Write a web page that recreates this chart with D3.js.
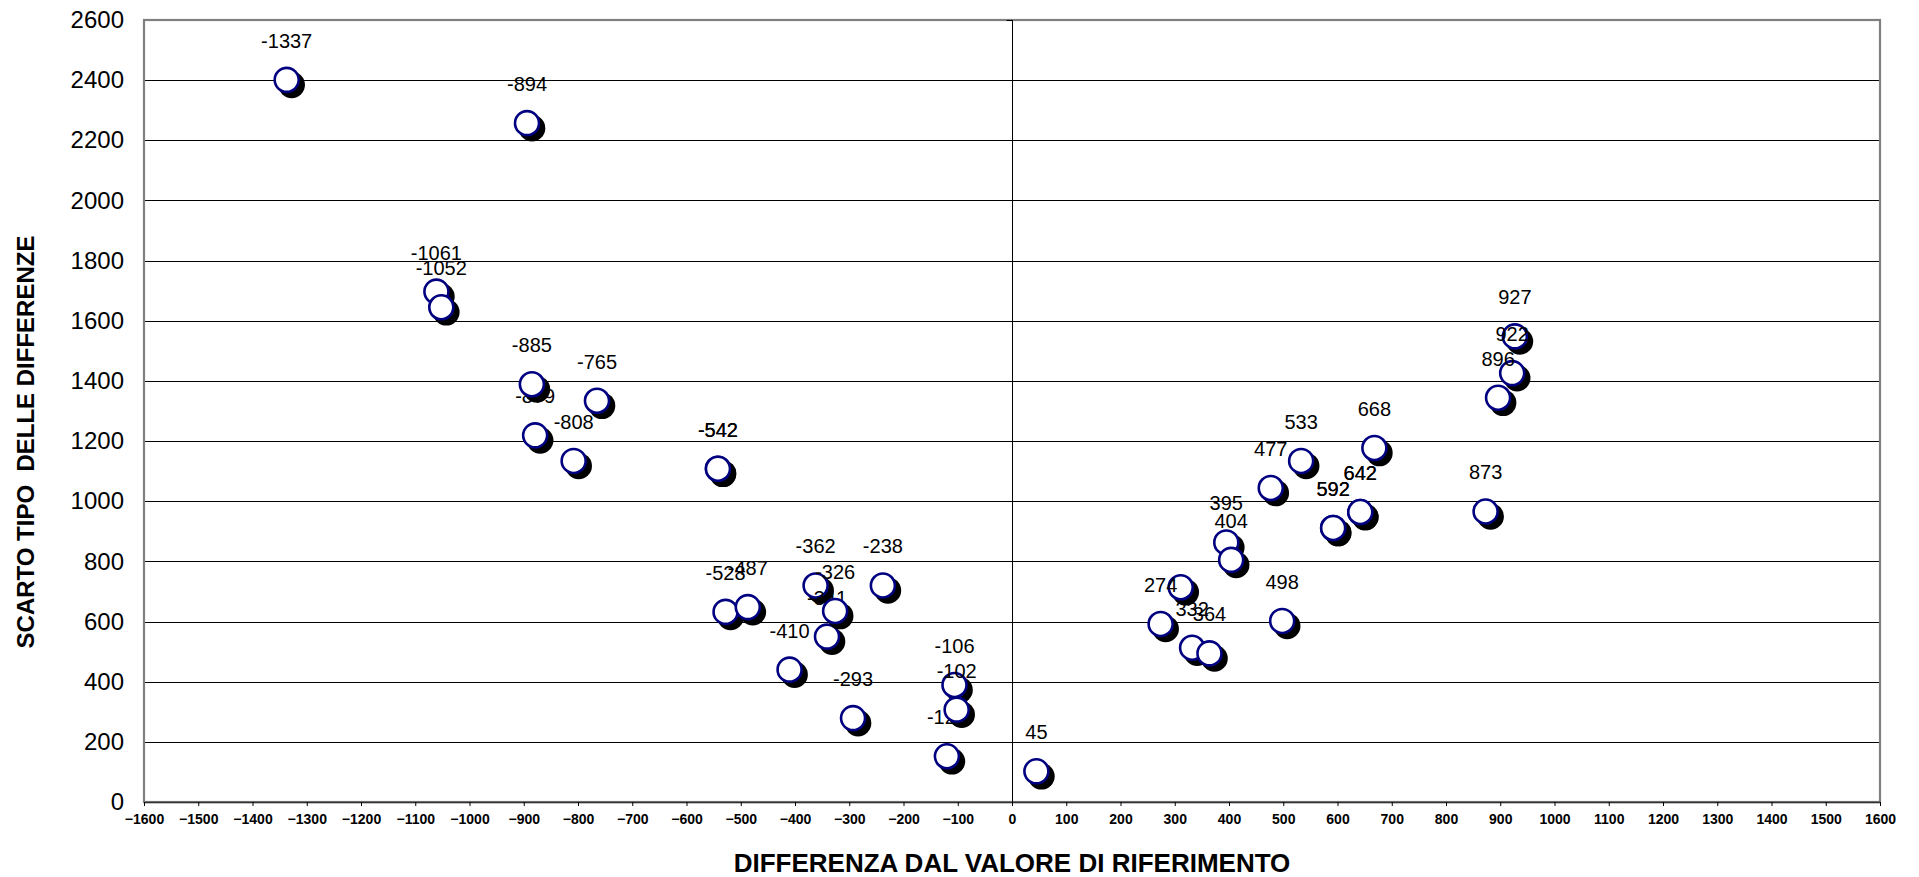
<!DOCTYPE html>
<html>
<head>
<meta charset="utf-8">
<script src="https://cdn.jsdelivr.net/npm/d3@7"></script>
<style>
  body { margin:0; background:#fff; }
  svg { display:block; }
  text { font-family:"Liberation Sans", Arial, sans-serif; fill:#000; }
</style>
</head>
<body>
<div id="chart-scatter"></div>
<script>
// values: x = difference, y = standard deviation, label = shown text
// (kept in drawing order, later points sit on top of earlier labels as in the original)
const X_VALS = [-1337,-894,-1061,-1052,-879,-885,-765,-808,-542,-542,-528,-487,-362,-341,-326,-238,-410,-293,-106,-120,-102,
                45,311,274,332,364,395,404,477,498,533,592,592,642,642,668,873,927,922,896];
const Y_VALS = [2401,2257,1697,1645,1219,1389,1334,1134,1108,1108,632,648,720,550,635,720,440,279,389,152,307,
                102,714,592,513,494,863,805,1044,602,1134,911,911,964,964,1177,966,1548,1426,1344];
const LABELS = ["-1337","-894","-1061","-1052","-879","-885","-765","-808","-542","-542","-528","-487","-362","-341","-326","-238","-410","-293","-106","-120","-102",
                "45","","274","332","364","395","404","477","498","533","592","592","642","642","668","873","927","922","896"];
const X_TICKS = [-1600,-1500,-1400,-1300,-1200,-1100,-1000,-900,-800,-700,-600,-500,-400,-300,-200,-100,
                 0,100,200,300,400,500,600,700,800,900,1000,1100,1200,1300,1400,1500,1600];
const Y_TICKS = [0,200,400,600,800,1000,1200,1400,1600,1800,2000,2200,2400,2600];

(function() {
    const totalW=1919, totalH=877;
    const margin = { top:20, right:39, bottom:75, left:144 };
    const W = totalW-margin.left-margin.right, H = totalH-margin.top-margin.bottom;
    const FONT = '"Liberation Sans", Arial, sans-serif';

    const svg = d3.select("#chart-scatter").append("svg")
        .attr("width",totalW).attr("height",totalH)
        .append("g").attr("transform",`translate(${margin.left},${margin.top})`);

    const x = d3.scaleLinear().domain([-1600,1600]).range([0,W]);
    const y = d3.scaleLinear().domain([0,2600]).range([H,0]);

    // horizontal gridlines
    svg.append("g").selectAll("line").data(Y_TICKS.slice(1,-1)).enter().append("line")
        .attr("x1",0).attr("x2",W).attr("y1",d=>Math.round(y(d))+0.5).attr("y2",d=>Math.round(y(d))+0.5)
        .attr("stroke","#000").attr("stroke-width",1);

    // plot frame
    svg.append("rect").attr("x",0).attr("y",0).attr("width",W).attr("height",H)
        .attr("fill","none").attr("stroke","#808080").attr("stroke-width",2.2);

    // vertical axis crossing at 0, with its small ticks
    const x0 = Math.round(x(0))+0.5;
    svg.append("line").attr("x1",x0).attr("x2",x0).attr("y1",0).attr("y2",H+4).attr("stroke","#000");
    svg.append("g").selectAll("line").data(Y_TICKS).enter().append("line")
        .attr("x1",x0-6).attr("x2",x0).attr("y1",d=>Math.round(y(d))+0.5).attr("y2",d=>Math.round(y(d))+0.5)
        .attr("stroke","#000");

    // bottom axis
    const xAxis = svg.append("g").attr("transform",`translate(0,${H})`)
        .call(d3.axisBottom(x).tickValues(X_TICKS).tickFormat(d3.format("d")).tickSize(4).tickSizeOuter(0).tickPadding(8));
    xAxis.select(".domain").attr("stroke","#333").attr("stroke-width",1.5);
    xAxis.selectAll(".tick line").attr("stroke","#000");
    xAxis.selectAll("text").style("font-size","14px").style("font-weight","bold").style("font-family",FONT);

    // left tick labels (no axis line, the frame stands in)
    const yAxis = svg.append("g").call(d3.axisLeft(y).tickValues(Y_TICKS).tickFormat(d3.format("d")).tickSize(0).tickPadding(20));
    yAxis.select(".domain").remove();
    yAxis.selectAll("text").style("font-size","24px").style("font-family",FONT);

    // each point: black drop shadow, white circle with navy ring, then its label
    const pts = X_VALS.map((v,i)=>({x:v, y:Y_VALS[i], label:LABELS[i]}));
    const R=12;
    const mk = svg.append("g").selectAll("g").data(pts).enter().append("g");
    mk.append("circle").attr("cx",d=>x(d.x)+5).attr("cy",d=>y(d.y)+5).attr("r",R+1.3).attr("fill","#000");
    mk.append("circle").attr("cx",d=>x(d.x)).attr("cy",d=>y(d.y)).attr("r",R)
        .attr("fill","#fff").attr("stroke","#000080").attr("stroke-width",2.6);
    mk.filter(d=>d.label!=="").append("text")
        .attr("x",d=>x(d.x)).attr("y",d=>y(d.y)-32).attr("text-anchor","middle")
        .style("font-size","20px").text(d=>d.label);

    // axis titles
    svg.append("text").attr("x",W/2).attr("y",H+70).attr("text-anchor","middle")
        .style("font-size","26px").style("font-weight","bold").text("DIFFERENZA DAL VALORE DI RIFERIMENTO");
    svg.append("text").attr("transform",`translate(${34-margin.left},${442-margin.top}) rotate(-90)`)
        .attr("text-anchor","middle").style("font-size","24px").style("font-weight","bold")
        .style("white-space","pre").text("SCARTO TIPO  DELLE DIFFERENZE");
})();
</script>
</body>
</html>
